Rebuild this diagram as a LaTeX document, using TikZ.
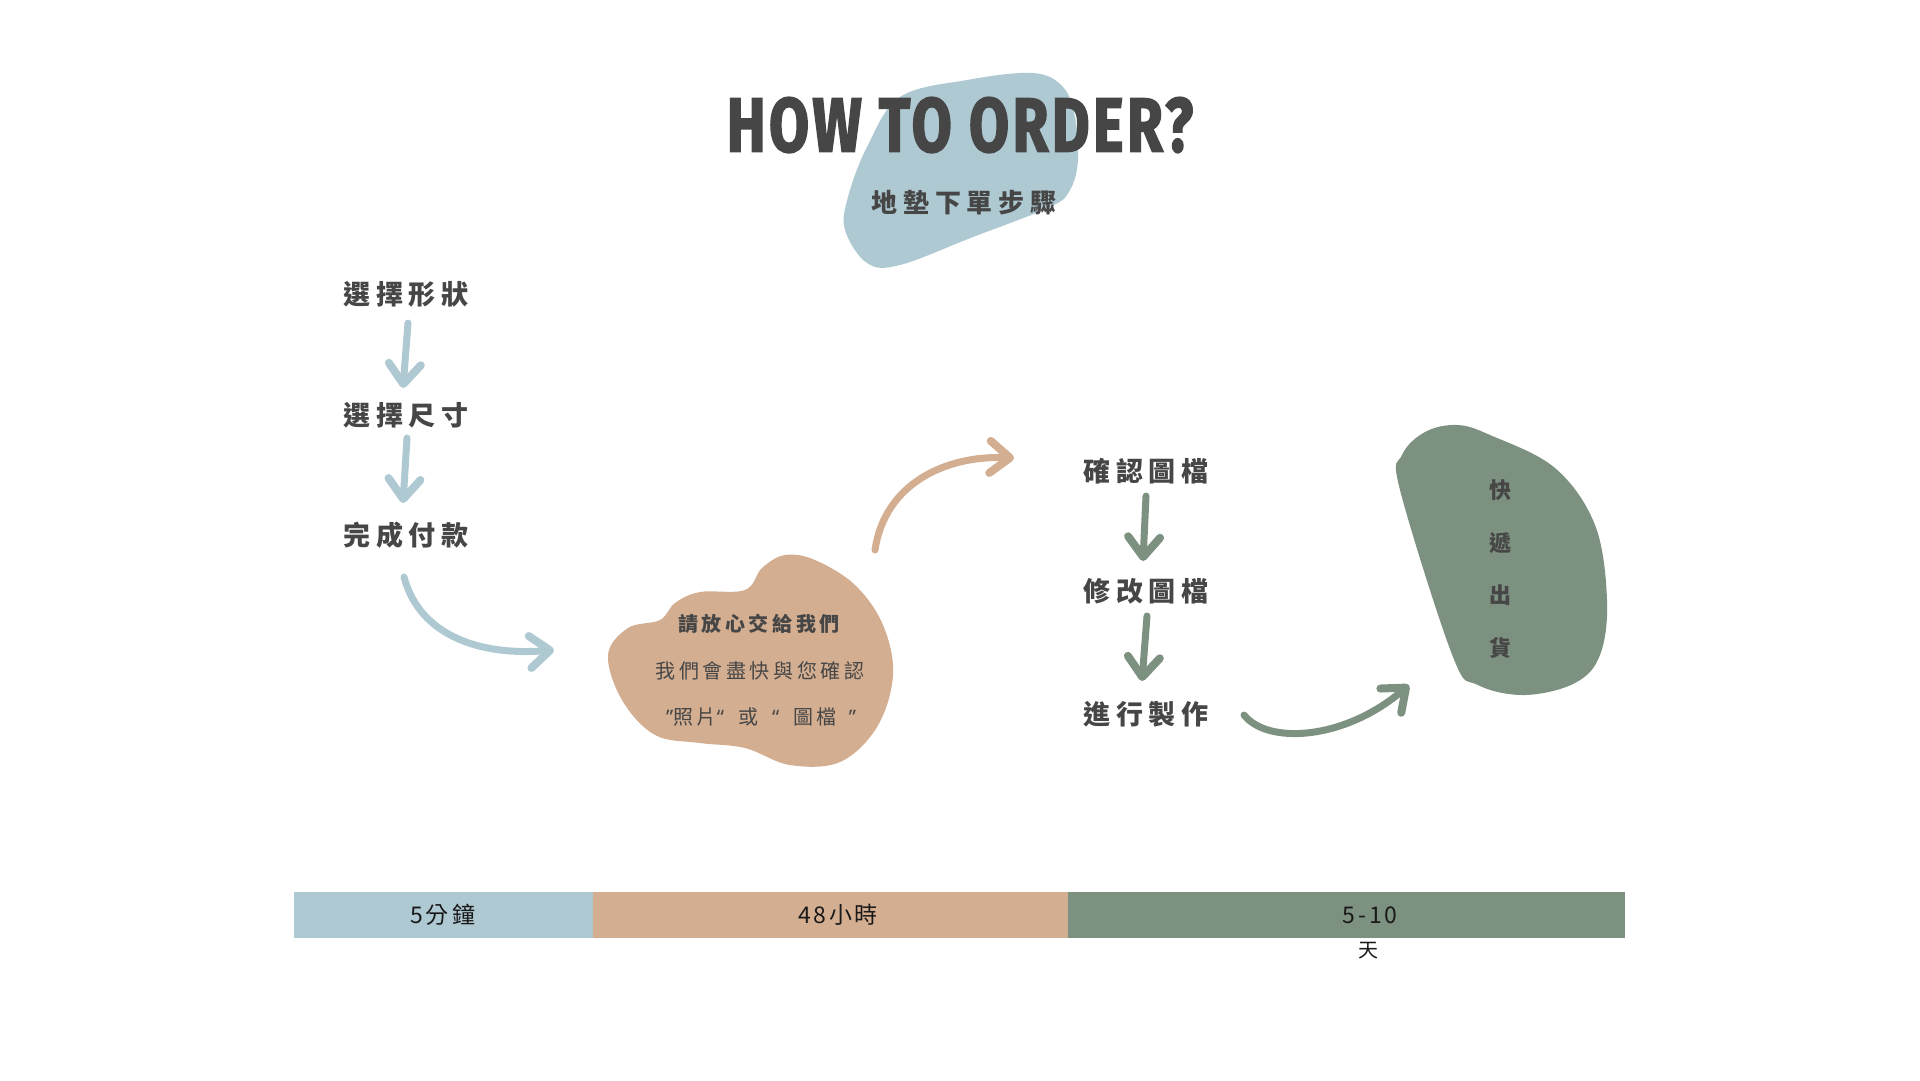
\documentclass[tikz,border=0pt]{standalone}
\usepackage{fontspec}
\usepackage{graphicx}
\usetikzlibrary{arrows.meta}
\newfontfamily\cjk{Noto Sans CJK TC}
\newfontfamily\cjkw{Noto Sans CJK TC}[LetterSpace=20]
\newfontfamily\cjks{Noto Sans CJK TC}[LetterSpace=22]
\newfontfamily\cjkm{Noto Sans CJK TC}[LetterSpace=18]
\newfontfamily\cjkb{Noto Sans CJK TC}[LetterSpace=12]
\newfontfamily\latinq{Noto Sans}
\newfontfamily\titlefont{Fira Sans}[LetterSpace=6, FakeBold=2.5]
\definecolor{bblue}{HTML}{AFC9D3}
\definecolor{btan}{HTML}{D3AE91}
\definecolor{bgreen}{HTML}{7D9180}
\definecolor{ink}{HTML}{464646}
\tikzset{
  lbl/.style={text=ink, inner sep=0pt, font=\cjkw\bfseries\fontsize{27}{30}\selectfont},
  blobtext/.style={text=ink, inner sep=0pt, font=\cjkm\fontsize{20}{24}\selectfont},
  barlbl/.style={text=black!90, inner sep=0pt, font=\cjkb\fontsize{23}{28}\selectfont},
  arr/.style={line width=7pt, line cap=round,
    -{Straight Barb[length=20pt,width=32pt,line width=8pt,round]}},
}
\newcommand{\myopenq}{{\latinq “}}
\newcommand{\mycloseq}{{\latinq ”}}
\begin{document}
\begin{tikzpicture}[x=1pt,y=-1pt]
\useasboundingbox (0,0) rectangle (1920,1080);
\fill[white] (0,0) rectangle (1920,1080);

% blue blob behind title
\fill[bblue] plot[smooth cycle, tension=0.6] coordinates {
  (900,97) (967,80) (1033,73) (1063,87) (1075,117) (1078,160) (1070,190)
  (1050,207) (973,237) (900,265) (867,263) (845,230) (848,197) (867,147)};

% title
\node[inner sep=0pt, text=ink] (title) at (960,125)
  {\resizebox{466pt}{54pt}{\titlefont\bfseries HOW TO ORDER?}};
\node[lbl, font=\cjks\bfseries\fontsize{26}{30}\selectfont] (sub) at (964,203) {地墊下單步驟};

% left steps
\node[lbl] (s1) at (406,294) {選擇形狀};
\node[lbl] (s2) at (406,415) {選擇尺寸};
\node[lbl] (s3) at (406,535) {完成付款};
\coordinate (a1s) at (408,323);
\coordinate (a1e) at (403,388);
\coordinate (a2s) at (407,438);
\coordinate (a2e) at (403,503);
\draw[bblue, arr] (a1s) -- (a1e);
\draw[bblue, arr] (a2s) -- (a2e);

% tan blob
\fill[btan] plot[smooth cycle, tension=0.6] coordinates {
  (608,655) (622,700) (655,735) (700,743) (745,748) (790,765) (840,762)
  (877,727) (893,675) (883,625) (855,585) (815,560) (785,555) (762,568)
  (745,590) (700,592) (675,603) (660,620) (628,628)};
\node[blobtext, font=\cjkm\bfseries\fontsize{20}{24}\selectfont] (b1) at (759,624) {請放心交給我們};
\node[blobtext] (b2) at (760,671) {我們會盡快與您確認};
\node[blobtext] (b3) at (761,717) {\mycloseq 照片\myopenq\hspace{14pt}或\hspace{14pt}\myopenq\hspace{14pt}圖檔\hspace{12pt}\mycloseq};

% blue curved arrow: 完成付款 -> tan blob
\coordinate (c1s) at (404,577);
\coordinate (c1e) at (554,650);
\draw[bblue, arr] (c1s) .. controls (420,637) and (482,656) .. (c1e);

% tan curved arrow: blob -> 確認圖檔
\coordinate (c2s) at (875,550);
\coordinate (c2e) at (1014,458);
\draw[btan, arr] (c2s) .. controls (885,482) and (948,455) .. (c2e);

% right steps
\node[lbl] (r1) at (1146,471) {確認圖檔};
\node[lbl] (r2) at (1146,591) {修改圖檔};
\node[lbl] (r3) at (1146,714) {進行製作};
\coordinate (g1s) at (1146,496);
\coordinate (g1e) at (1143,561);
\coordinate (g2s) at (1147,616);
\coordinate (g2e) at (1142,681);
\draw[bgreen, arr] (g1s) -- (g1e);
\draw[bgreen, arr] (g2s) -- (g2e);

% green blob
\fill[bgreen] plot[smooth cycle, tension=0.6] coordinates {
  (1457,425) (1490,435) (1555,468) (1595,525) (1607,600) (1600,655)
  (1575,683) (1525,695) (1478,685) (1453,657) (1400,490) (1402,455) (1425,432)};
\node[text=ink, inner sep=0pt, align=center, font=\cjk\bfseries\fontsize{22}{52.7}\selectfont]
  (ship) at (1500,569) {快\\遞\\出\\貨};

% green curved arrow: 進行製作 -> shipping blob
\coordinate (c3s) at (1244,715);
\coordinate (c3e) at (1409,685);
\draw[bgreen, arr] (c3s) .. controls (1268,745) and (1345,740) .. (c3e);

% time bar
\fill[bblue] (294,892) rectangle (593,938);
\fill[btan] (593,892) rectangle (1068,938);
\fill[bgreen] (1068,892) rectangle (1625,938);
\node[barlbl] (t1) at (443,915) {5分\,鐘};
\node[barlbl] (t2) at (838,915) {48小時};
\node[barlbl] (t3) at (1370,915) {5-10};
\node[barlbl, font=\cjk\fontsize{20}{24}\selectfont] (t4) at (1368,951) {天};
\end{tikzpicture}
\end{document}
